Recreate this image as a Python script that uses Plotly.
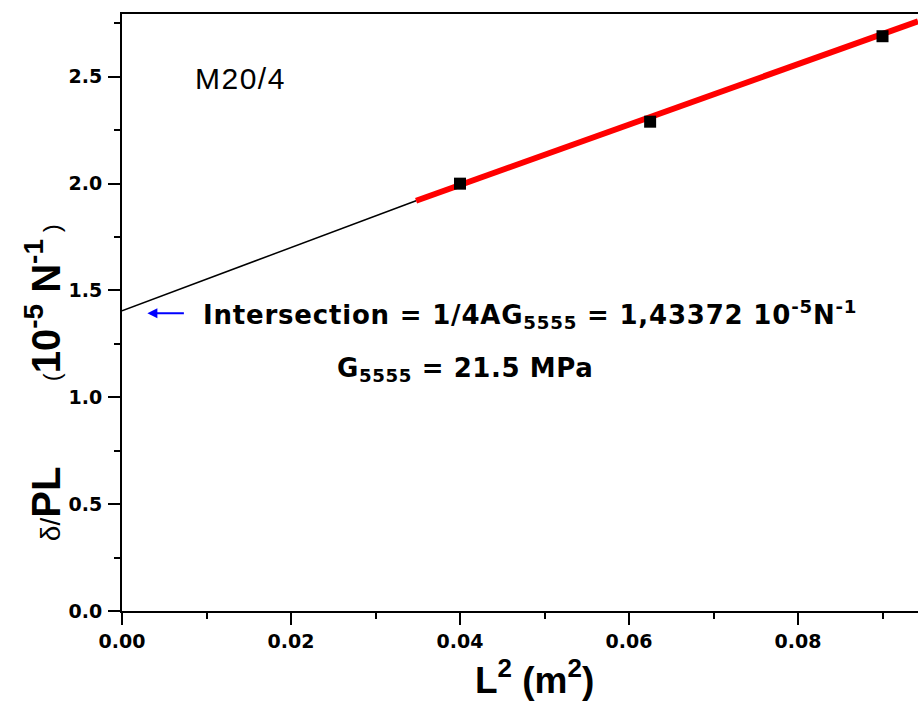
import plotly.graph_objects as go

# data
L2 = [0.04, 0.0625, 0.09]
delta_PL = [2.0, 2.29, 2.69]
fit_x = [0.0348, 0.0942]
fit_y = [1.92, 2.76]
ext_x = [0.0, 0.0348]
ext_y = [1.405, 1.92]
x_ticks = [0.00, 0.02, 0.04, 0.06, 0.08]
x_ticklabels = ["0.00", "0.02", "0.04", "0.06", "0.08"]
y_ticks = [0.0, 0.5, 1.0, 1.5, 2.0, 2.5]
y_ticklabels = ["0.0", "0.5", "1.0", "1.5", "2.0", "2.5"]

TICKFONT = dict(family="DejaVu Sans", size=19, color="black", weight="bold")

fig = go.Figure()
fig.add_trace(go.Scatter(x=ext_x, y=ext_y, mode="lines",
                         line=dict(color="black", width=1.5), showlegend=False))
fig.add_trace(go.Scatter(x=fit_x, y=fit_y, mode="lines",
                         line=dict(color="#ff0000", width=6), showlegend=False))
fig.add_trace(go.Scatter(x=L2, y=delta_PL, mode="markers",
                         marker=dict(symbol="square", size=12, color="black"),
                         showlegend=False))

fig.update_layout(
    width=918, height=702,
    margin=dict(l=122, r=0, t=14, b=91),
    plot_bgcolor="white", paper_bgcolor="white",
    xaxis=dict(range=[0, 0.0942], tickvals=x_ticks, ticktext=x_ticklabels,
               showgrid=False, zeroline=False, showline=True, linecolor="black",
               linewidth=2, mirror=True, ticks="outside", ticklen=12, tickwidth=2,
               tickcolor="black", tickfont=TICKFONT,
               minor=dict(dtick=0.01, ticks="outside", ticklen=6, tickwidth=2, tickcolor="black")),
    yaxis=dict(range=[0, 2.794], tickvals=y_ticks, ticktext=y_ticklabels,
               showgrid=False, zeroline=False, showline=True, linecolor="black",
               linewidth=2, mirror=False, ticks="outside", ticklen=12, tickwidth=2,
               tickcolor="black", tickfont=TICKFONT, ticklabelstandoff=2,
               minor=dict(dtick=0.25, ticks="outside", ticklen=6, tickwidth=2, tickcolor="black")),
)

SP = "\u2003"
# y axis title
fig.add_annotation(
    xref="paper", yref="paper", x=-0.099, y=0.382, xanchor="center", yanchor="middle",
    textangle=-90, showarrow=False,
    text="<span style='font-size:28px;font-weight:normal'>δ/</span><b>PL</b>"
         "<span style='font-size:24px;font-weight:normal'>" + SP + SP + SP + "  (</span>"
         "<b>10<sup>-5</sup> N<sup>-1</sup></b>"
         "<span style='font-size:24px;font-weight:normal'> )</span>",
    font=dict(family="Liberation Sans", size=40, color="black"))

# x axis title
fig.add_annotation(
    xref="paper", yref="paper", x=0.5176, y=-0.1106, xanchor="center", yanchor="middle",
    showarrow=False, text="<b>L<sup>2</sup> (m<sup>2</sup>)</b>",
    font=dict(family="Liberation Sans", size=37, color="black"))

fig.add_annotation(x=0.0084, y=2.49, xanchor="left", yanchor="middle", showarrow=False,
                   text="<span style='letter-spacing:1.5px'>M20/4</span>",
                   font=dict(family="Liberation Sans", size=30, color="black"))

fig.add_annotation(x=0.0093, y=1.39, xanchor="left", yanchor="middle", showarrow=False,
                   text="<span style='letter-spacing:0.8px'><b>Intersection = 1/4AG<sub>5555</sub> = 1,43372 10<sup>-5</sup>N<sup>-1</sup></b></span>",
                   font=dict(family="DejaVu Sans", size=26, color="black"))

fig.add_annotation(x=0.0252, y=1.13, xanchor="left", yanchor="middle", showarrow=False,
                   text="<span style='letter-spacing:0.6px'><b>G<sub>5555</sub> = 21.5 MPa</b></span>",
                   font=dict(family="DejaVu Sans", size=26, color="black"))

# blue arrow
fig.add_annotation(x=0.003, y=1.393, ax=0.0075, ay=1.393, axref="x", ayref="y",
                   text="", showarrow=True, arrowhead=2, arrowsize=1, arrowwidth=2,
                   arrowcolor="#0000ff")

fig.write_html("out.html", config={"displayModeBar": False},
               post_script="document.body.style.margin='0';document.body.style.overflow='hidden';")
